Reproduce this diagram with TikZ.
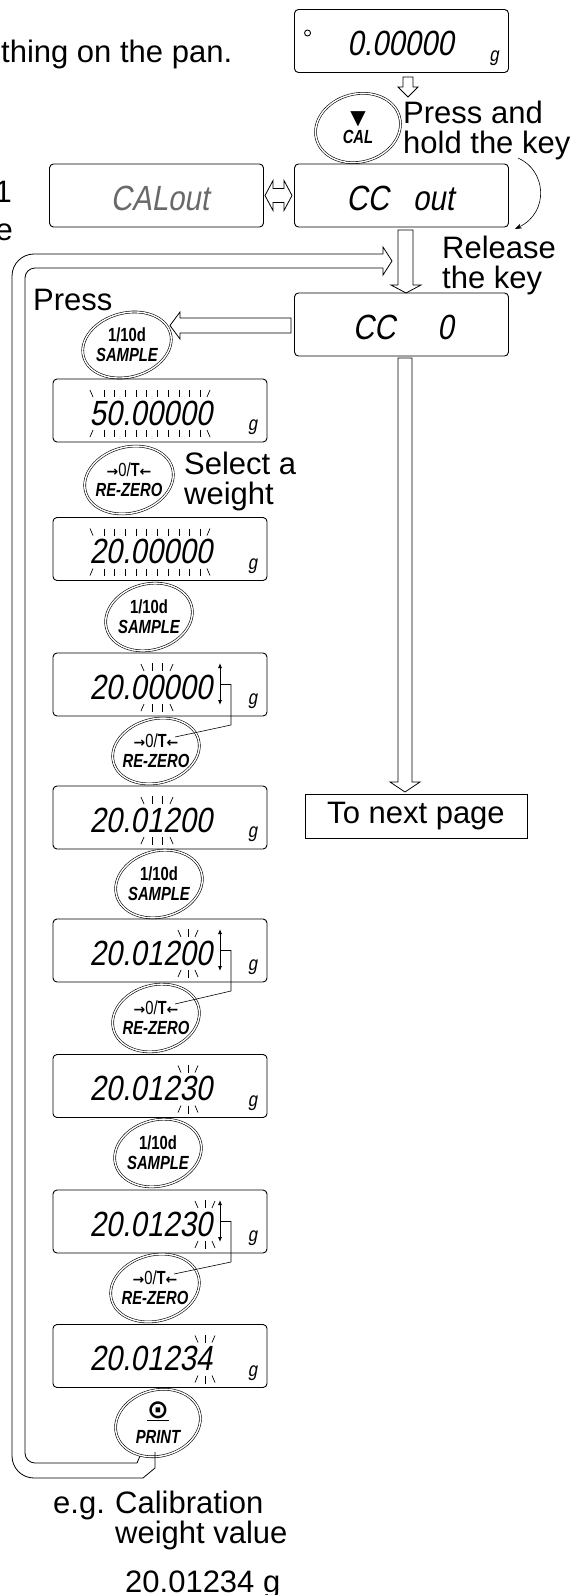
\documentclass[tikz,border=0pt]{standalone}
\usepackage{fontspec}
\setmainfont{Liberation Sans}
\newfontfamily\lcdfont[FakeSlant=0.18,FakeStretch=0.84]{Liberation Sans}
\newfontfamily\keyfont[FakeStretch=0.78]{Liberation Sans}
\newfontfamily\symfont{DejaVu Sans}
\usepackage{tikz}
\usetikzlibrary{
arrows.meta,
shapes.geometric
}
\definecolor{lcdgray}{RGB}{105,105,105}

\tikzset{
  lcdbox/.style={draw, rounded corners=4pt, line width=0.9pt, minimum width=214pt, minimum height=63pt, inner sep=0pt},
  reading/.style={font=\lcdfont\fontsize{35}{35}\selectfont, inner sep=0pt, anchor=base east},
  unit/.style={font=\lcdfont\fontsize{20}{20}\selectfont, inner sep=0pt},
  keyring/.style={draw, ellipse, double, double distance=1.4pt, line width=0.6pt, rotate=15, inner sep=0pt},
  keytxt/.style={font=\keyfont\bfseries\fontsize{19}{20}\selectfont, inner sep=0pt, align=center},
  lbl/.style={font=\fontsize{31}{30}\selectfont, inner sep=0pt, align=left},
  hollow/.style={draw, fill=white, line width=0.8pt, line join=miter},
  blinkln/.style={line width=0.7pt},
  updown/.style={{Latex[length=5pt,width=4pt]}-{Latex[length=5pt,width=4pt]}, line width=0.8pt},
  leader/.style={line width=0.6pt}
}

% blinking digit marks: centre x, box top, box bottom
\newcommand{\blinkone}[3]{
  \draw[blinkln] (#1-10,#2+11) -- (#1-7,#2+18);
  \draw[blinkln] (#1,#2+10) -- (#1,#2+18);
  \draw[blinkln] (#1+10,#2+11) -- (#1+7,#2+18);
  \draw[blinkln] (#1-7,#3-12) -- (#1-10,#3-5);
  \draw[blinkln] (#1,#3-12) -- (#1,#3-4);
  \draw[blinkln] (#1+7,#3-12) -- (#1+10,#3-5);
}
\newcommand{\blinktwo}[3]{
  \draw[blinkln] (#1-16,#2+11) -- (#1-13,#2+18);
  \draw[blinkln] (#1-5,#2+10) -- (#1-5,#2+18);
  \draw[blinkln] (#1+5,#2+10) -- (#1+5,#2+18);
  \draw[blinkln] (#1+16,#2+11) -- (#1+13,#2+18);
  \draw[blinkln] (#1-13,#3-12) -- (#1-16,#3-5);
  \draw[blinkln] (#1-5,#3-12) -- (#1-5,#3-4);
  \draw[blinkln] (#1+5,#3-12) -- (#1+5,#3-4);
  \draw[blinkln] (#1+13,#3-12) -- (#1+16,#3-5);
}
% all digits blinking: box top, box bottom
\newcommand{\blinkall}[2]{
  \foreach \tx in {0,...,9} {
    \draw[blinkln] (104+\tx*10.7,#1+11) -- ++(0,7);
    \draw[blinkln] (104+\tx*10.7,#2-12) -- ++(0,7);
  }
  \draw[blinkln] (90,#1+11) -- (93,#1+18);
  \draw[blinkln] (210,#1+11) -- (207,#1+18);
  \draw[blinkln] (93,#2-12) -- (90,#2-5);
  \draw[blinkln] (207,#2-12) -- (210,#2-5);
}
\newcommand{\zerokey}{{\symfont\fontsize{14}{20}\selectfont →}{\mdseries 0/}T{\symfont\fontsize{14}{20}\selectfont ←}\\{\itshape RE-ZERO}}

\begin{document}
\begin{tikzpicture}[x=1pt, y=-1pt]
  \useasboundingbox (0,0) rectangle (576,1595);

  % Side texts
  \node[lbl, anchor=base west] (lpan) at (1,63) {thing on the pan.};
  \node[lbl, anchor=base east] (lone) at (12,202) {1};
  \node[lbl, anchor=base east] (le) at (13,240) {e};

  % Right column — weighing mode and CC out
  \node[lcdbox] (d0) at (401.5,41) {};
  \node[reading] (r0) at ([shift={(-55,-17)}]d0.south east) {0.00000};
  \node[unit] (g0) at ([shift={(-15,-15)}]d0.south east) {g};
  \draw[line width=0.9pt] ([shift={(13.5,-8)}]d0.west) circle (3pt);

  \draw[hollow] (403,77) -- (403,87) -- (398,87) -- (408,97) -- (418,87) -- (413,87) -- (413,77) -- cycle;

  \node[keyring, minimum width=86pt, minimum height=68pt] (kcal) at (358,128) {};
  \node[keytxt, font=\keyfont\bfseries\fontsize{19}{19}\selectfont] (kcalt) at (kcal.center) {{\symfont\fontsize{20}{19}\selectfont ▼}\\{\itshape CAL}};
  \node[lbl, anchor=north west] (lhold) at (403,101) {Press and\\hold the key};

  \node[lcdbox] (dcal) at (156.5,195.5) {};
  \node[reading, text=lcdgray] (rcal) at ([shift={(-55,-17)}]dcal.south east) {CALout};
  \node[lcdbox] (dcc) at (401.5,195.5) {};
  \node[reading] (rcc) at ([shift={(-55,-17)}]dcc.south east) {CC\hspace{24pt}out};
  \draw[hollow] (265,195.5) -- (273,180.5) -- (273,188.5) -- (284,188.5) -- (284,180.5) -- (292,195.5)
    -- (284,210.5) -- (284,202.5) -- (273,202.5) -- (273,210.5) -- cycle;

  \coordinate (cs) at (518,158);
  \coordinate (ce) at (515,229);
  \draw[-{Stealth[length=7pt,width=5pt]}, line width=0.6pt] (cs) .. controls (546,170) and (550,212) .. (ce);
  \node[lbl, anchor=north west] (lrel) at (442,236) {Release\\the key};

  \draw[hollow] (398,230) -- (398,285) -- (391,285) -- (406,293) -- (421,285) -- (413,285) -- (413,230) -- cycle;

  \node[lcdbox] (dc0) at (401.5,324.5) {};
  \node[reading] (rc0) at ([shift={(-55,-17)}]dc0.south east) {CC\hspace{42pt}0};

  \draw[hollow] (291,318) -- (180,318) -- (180,312) -- (170,325.5) -- (180,339) -- (180,333) -- (291,333) -- cycle;
  \draw[hollow] (398,358) -- (398,782) -- (390,782) -- (405,792) -- (420,782) -- (412,782) -- (412,358) -- cycle;
  \node[draw, line width=0.8pt, minimum width=222pt, minimum height=44pt, inner sep=0pt,
    font=\fontsize{31}{30}\selectfont] (next) at (416,816) {To next page};

  % Left column — weight selection
  \node[lbl, anchor=base west] (lpress) at (33,310) {Press};
  \node[keyring, minimum width=90pt, minimum height=64pt] (ks1) at (127,345) {};
  \node[keytxt] (ks1t) at (ks1.center) {1/10d\\{\itshape SAMPLE}};

  \node[lcdbox] (d1) at (160,410.5) {};
  \node[reading] (r1) at ([shift={(-55,-17)}]d1.south east) {50.00000};
  \node[unit] (g1) at ([shift={(-15,-15)}]d1.south east) {g};
  \blinkall{379}{442}

  \node[keyring, minimum width=90pt, minimum height=66pt] (kz1) at (129,480) {};
  \node[keytxt] (kz1t) at (kz1.center) {\zerokey};
  \node[lbl, anchor=north west] (lsel) at (184,452) {Select a\\weight};

  \node[lcdbox] (d2) at (160,549) {};
  \node[reading] (r2) at ([shift={(-55,-17)}]d2.south east) {20.00000};
  \node[unit] (g2) at ([shift={(-15,-15)}]d2.south east) {g};
  \blinkall{517.5}{580.5}

  \node[keyring, minimum width=88pt, minimum height=66pt] (ks2) at (149,617) {};
  \node[keytxt] (ks2t) at (ks2.center) {1/10d\\{\itshape SAMPLE}};

  \node[lcdbox] (d3) at (160,684.5) {};
  \node[reading] (r3) at ([shift={(-55,-17)}]d3.south east) {20.00000};
  \node[unit] (g3) at ([shift={(-15,-15)}]d3.south east) {g};
  \blinktwo{157}{653}{716}
  \coordinate (d3a) at (220,684.5);
  \draw[updown] (220,663) -- (220,705);

  \node[keyring, minimum width=88pt, minimum height=64pt] (kz2) at (156,751) {};
  \node[keytxt] (kz2t) at (kz2.center) {\zerokey};
  \draw[leader] (d3a) -- (231,684.5) -- (231,725) -- ([shift={(19,-14)}]kz2.center);

  \node[lcdbox] (d4) at (160,817.5) {};
  \node[reading] (r4) at ([shift={(-55,-17)}]d4.south east) {20.01200};
  \node[unit] (g4) at ([shift={(-15,-15)}]d4.south east) {g};
  \blinktwo{157}{786}{849}

  \node[keyring, minimum width=88pt, minimum height=66pt] (ks3) at (159,884) {};
  \node[keytxt] (ks3t) at (ks3.center) {1/10d\\{\itshape SAMPLE}};

  \node[lcdbox] (d5) at (160,950.5) {};
  \node[reading] (r5) at ([shift={(-55,-17)}]d5.south east) {20.01200};
  \node[unit] (g5) at ([shift={(-15,-15)}]d5.south east) {g};
  \blinkone{188}{919}{982}
  \coordinate (d5a) at (220,950.5);
  \draw[updown] (220,929) -- (220,971);

  \node[keyring, minimum width=88pt, minimum height=66pt] (kz3) at (156,1018) {};
  \node[keytxt] (kz3t) at (kz3.center) {\zerokey};
  \draw[leader] (d5a) -- (231,950.5) -- (231,991) -- ([shift={(19,-14)}]kz3.center);

  \node[lcdbox] (d6) at (160,1086) {};
  \node[reading] (r6) at ([shift={(-55,-17)}]d6.south east) {20.01230};
  \node[unit] (g6) at ([shift={(-15,-15)}]d6.south east) {g};
  \blinkone{188}{1054.5}{1117.5}

  \node[keyring, minimum width=88pt, minimum height=66pt] (ks4) at (158,1153) {};
  \node[keytxt] (ks4t) at (ks4.center) {1/10d\\{\itshape SAMPLE}};

  \node[lcdbox] (d7) at (160,1221.5) {};
  \node[reading] (r7) at ([shift={(-55,-17)}]d7.south east) {20.01230};
  \node[unit] (g7) at ([shift={(-15,-15)}]d7.south east) {g};
  \blinkone{205}{1190}{1253}
  \coordinate (d7a) at (220,1221.5);
  \draw[updown] (220,1200) -- (220,1242);

  \node[keyring, minimum width=90pt, minimum height=66pt] (kz4) at (155,1288) {};
  \node[keytxt] (kz4t) at (kz4.center) {\zerokey};
  \draw[leader] (d7a) -- (231,1221.5) -- (231,1262) -- ([shift={(19,-14)}]kz4.center);

  \node[lcdbox] (d8) at (160,1356) {};
  \node[reading] (r8) at ([shift={(-55,-17)}]d8.south east) {20.01234};
  \node[unit] (g8) at ([shift={(-15,-15)}]d8.south east) {g};
  \blinkone{205}{1324.5}{1387.5}

  \node[keyring, minimum width=86pt, minimum height=66pt] (kp) at (158,1423) {};
  \node[keytxt, font=\keyfont\bfseries\fontsize{19}{25}\selectfont] (kpt) at (kp.center) {{\symfont\fontsize{26}{25}\selectfont\underline{⊙}}\\{\itshape PRINT}};

  % Return loop from PRINT back to the top
  \draw[line width=0.8pt] (140,1456) -- (137,1463);
  \draw[line width=0.8pt, rounded corners=10pt] (137,1463) -- (25,1463) -- (25,268) -- (383,268);
  \draw[line width=0.8pt, line join=miter] (383,268) -- (383,275) -- (392,261) -- (383,247) -- (383,254);
  \draw[line width=0.8pt, rounded corners=22pt] (383,254) -- (12,254) -- (12,1478) -- (143,1478);
  \draw[line width=0.8pt] (143,1478) -- (155,1468) -- (155,1452);

  % Example value
  \node[lbl, anchor=base west] (leg) at (53,1513) {e.g.};
  \node[lbl, anchor=north west] (lcalw) at (115,1491) {Calibration\\weight value};
  \node[lbl, anchor=base west] (lval) at (125,1592) {20.01234 g};
\end{tikzpicture}
\end{document}
